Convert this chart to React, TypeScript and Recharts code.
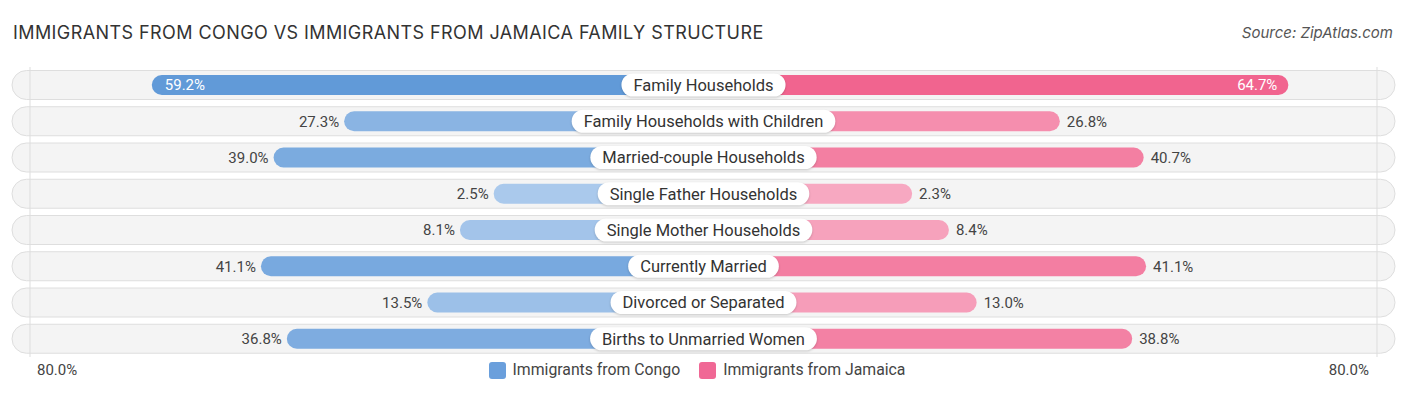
import { Bar, BarChart, Cell, LabelList, ReferenceLine, XAxis, YAxis } from 'recharts'

const CATEGORIES = [
  'Family Households',
  'Family Households with Children',
  'Married-couple Households',
  'Single Father Households',
  'Single Mother Households',
  'Currently Married',
  'Divorced or Separated',
  'Births to Unmarried Women',
]
const CONGO = [59.2, 27.3, 39.0, 2.5, 8.1, 41.1, 13.5, 36.8]
const JAMAICA = [64.7, 26.8, 40.7, 2.3, 8.4, 41.1, 13.0, 38.8]
const AXIS_MAX = 80
// part of each bar that sits under the centre label, in % units
const BASE = 32.3
const EDGE = 111.7

const data = CATEGORIES.map((name, i) => ({
  name,
  congo: -(BASE + CONGO[i]),
  jamaica: BASE + JAMAICA[i],
  congoVal: CONGO[i],
  jamaicaVal: JAMAICA[i],
}))

const W = 1406
const H = 395
const FONT = 'Roboto, "Noto Sans", sans-serif'

function mix(a: string, b: string, t: number) {
  const pa = [1, 3, 5].map((o) => parseInt(a.slice(o, o + 2), 16))
  const pb = [1, 3, 5].map((o) => parseInt(b.slice(o, o + 2), 16))
  return 'rgb(' + pa.map((v, i) => Math.round(v + (pb[i] - v) * t)).join(',') + ')'
}
const congoColor = (v: number) => mix('#adcbed', '#6099d8', Math.min(1, v / 60))
const jamaicaColor = (v: number) => mix('#f7abc3', '#f1648f', Math.min(1, v / 65))

let ctx: CanvasRenderingContext2D | null = null
function textWidth(s: string, font: string) {
  if (!ctx) ctx = document.createElement('canvas').getContext('2d')
  if (!ctx) return s.length * 8
  ctx.font = font
  return ctx.measureText(s).width
}

const RowBackground = (p: any) => {
  const cy = p.y + p.height / 2
  return (
    <rect x={p.x - 18} y={cy - 14.5} width={p.width + 36} height={29} rx={14.5}
      fill="#f4f4f4" stroke="#dedede" strokeWidth={1} />
  )
}

const valueLabel = (side: 'left' | 'right') => (p: any) => {
  const left = Math.min(p.x, p.x + p.width)
  const right = Math.max(p.x, p.x + p.width)
  const cy = p.y + p.height / 2
  const v = Number(p.value)
  const inside = v > 50
  const txt = v.toFixed(1) + '%'
  let x: number
  let anchor: 'start' | 'end'
  if (side === 'left') {
    x = inside ? left + 13 : left - 5
    anchor = inside ? 'start' : 'end'
  } else {
    x = inside ? right - 11 : right + 7
    anchor = inside ? 'end' : 'start'
  }
  return (
    <text x={x} y={cy} dy="0.35em" textAnchor={anchor} fontSize={15} fontFamily={FONT}
      fill={inside ? '#ffffff' : '#444444'}>{txt}</text>
  )
}

const centerLabel = (p: any) => {
  const cx = Math.min(p.x, p.x + p.width)
  const cy = p.y + p.height / 2
  const name = String(p.value)
  const w = textWidth(name, `16.5px ${FONT}`) + 24
  return (
    <g>
      <rect x={cx - w / 2} y={cy - 11.5} width={w} height={23} rx={11.5} fill="#ffffff"
        style={{ filter: 'drop-shadow(0px 1px 1px rgba(0,0,0,0.18))' }} />
      <text x={cx} y={cy} dy="0.35em" textAnchor="middle" fontSize={16.5} fontFamily={FONT}
        fill="#333333">{name}</text>
    </g>
  )
}

const AxisTick = (p: any) => {
  const isLeft = p.payload.value < 0
  return (
    <text x={p.x + (isLeft ? 7 : -8)} y={p.y + 5} dy="0.35em" textAnchor={isLeft ? 'start' : 'end'}
      fontSize={15} fontFamily={FONT} fill="#444444">
      {AXIS_MAX.toFixed(1)}%
    </text>
  )
}

export default function App() {
  return (
    <div style={{ position: 'relative', width: W, height: H, margin: -8, background: '#fff', overflow: 'hidden' }}>
      <div style={{ position: 'absolute', left: 13, top: 22, fontSize: 18, lineHeight: '22px',
        fontFamily: 'Inter, "Noto Sans", sans-serif', color: '#333', letterSpacing: 0.42 }}>
        IMMIGRANTS FROM CONGO VS IMMIGRANTS FROM JAMAICA FAMILY STRUCTURE
      </div>
      <div style={{ position: 'absolute', right: 13, top: 23, fontSize: 15, lineHeight: '20px',
        fontFamily: 'Inter, "Noto Sans", sans-serif', fontStyle: 'italic', color: '#555' }}>
        Source: ZipAtlas.com
      </div>
      <BarChart width={W} height={H} data={data} layout="vertical" stackOffset="sign"
        margin={{ top: 67, right: 29, bottom: 8, left: 30 }} barSize={20}>
        <XAxis type="number" domain={[-EDGE, EDGE]} ticks={[-EDGE, EDGE]} axisLine={false}
          tickLine={false} tick={<AxisTick />} interval={0} height={30} />
        <YAxis type="category" dataKey="name" hide />
        <ReferenceLine x={-EDGE} stroke="#dddddd" />
        <ReferenceLine x={EDGE} stroke="#dddddd" />
        <Bar dataKey="congo" stackId="a" isAnimationActive={false} radius={10}
          background={<RowBackground />}>
          {data.map((d, i) => <Cell key={i} fill={congoColor(d.congoVal)} />)}
          <LabelList dataKey="congoVal" content={valueLabel('left')} />
        </Bar>
        <Bar dataKey="jamaica" stackId="a" isAnimationActive={false} radius={10}>
          {data.map((d, i) => <Cell key={i} fill={jamaicaColor(d.jamaicaVal)} />)}
          <LabelList dataKey="jamaicaVal" content={valueLabel('right')} />
          <LabelList dataKey="name" content={centerLabel} />
        </Bar>
      </BarChart>
      <div style={{ position: 'absolute', left: -6, width: W, top: 360, display: 'flex', justifyContent: 'center',
        gap: 19, fontFamily: FONT, fontSize: 15.8, color: '#444', lineHeight: '20px' }}>
        <div style={{ display: 'flex', alignItems: 'center', gap: 7 }}>
          <span style={{ width: 17, height: 17, borderRadius: 3, background: '#6a9fdc', display: 'inline-block' }} />
          Immigrants from Congo
        </div>
        <div style={{ display: 'flex', alignItems: 'center', gap: 7 }}>
          <span style={{ width: 17, height: 17, borderRadius: 3, background: '#f06895', display: 'inline-block' }} />
          Immigrants from Jamaica
        </div>
      </div>
    </div>
  )
}
